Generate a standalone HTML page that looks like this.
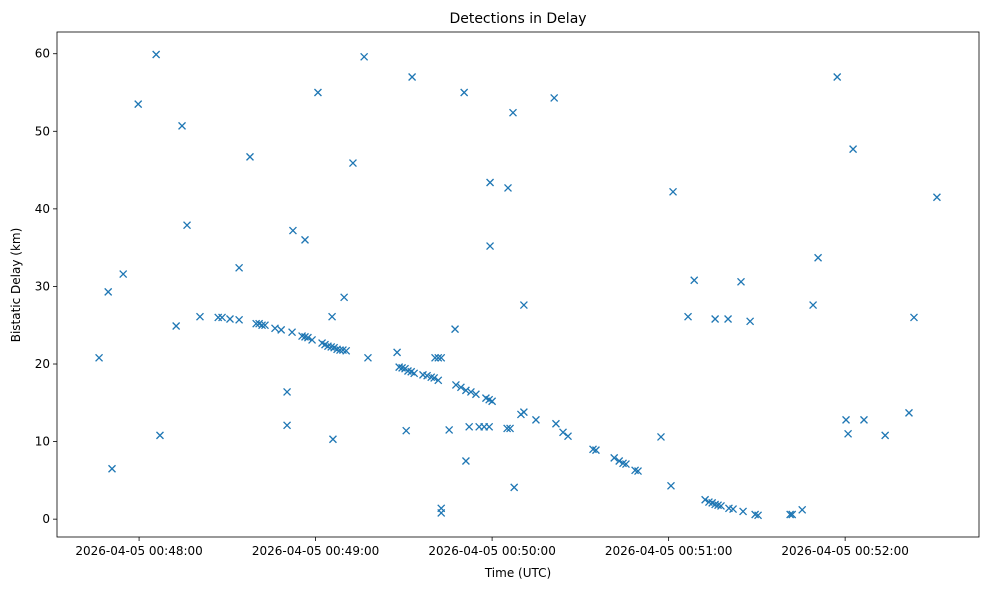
<!DOCTYPE html>
<html><head><meta charset="utf-8"><style>
body{margin:0;background:#fff;}
svg text{font-family:"DejaVu Sans","Liberation Sans",sans-serif;fill:#000;}
</style></head><body>
<svg id="chart" width="989" height="590" xmlns="http://www.w3.org/2000/svg">
<rect width="989" height="590" fill="#fff"/>
<text x="518" y="23" font-size="14" text-anchor="middle">Detections in Delay</text>
<g id="marks"></g>
<g id="axes"></g>
<rect x="57" y="32" width="922" height="505" fill="none" stroke="#000" stroke-width="0.8"/>
<text x="518" y="577" font-size="12" text-anchor="middle">Time (UTC)</text>
<text x="20" y="285" font-size="12" text-anchor="middle" transform="rotate(-90 20 285)">Bistatic Delay (km)</text>
</svg>
<script>
// seconds after 2026-04-05 00:48:00 UTC
const times = [-13.6,-10.5,-9.2,-5.4,-0.3,5.8,7.1,12.6,14.6,16.3,20.7,26.9,28.2,30.9,34.0,34.0,37.7,39.8,40.8,41.8,42.8,46.2,48.3,50.3,50.3,52.0,52.3,55.4,56.4,57.4,58.8,56.4,60.8,62.2,63.2,64.2,65.3,66.3,67.3,68.3,69.3,70.4,65.6,65.9,69.7,72.7,76.5,77.8,87.7,88.4,89.4,90.4,91.4,92.5,93.5,90.8,92.8,96.5,97.9,99.3,100.3,101.7,100.6,101.7,102.7,102.7,102.7,105.4,107.4,107.7,109.4,111.1,112.8,114.5,110.5,111.1,112.2,115.6,117.3,119.0,117.9,119.0,120.0,119.3,119.3,125.1,126.1,125.4,127.1,127.5,129.8,130.8,130.8,134.9,141.1,141.7,144.1,145.8,154.3,155.3,161.5,163.2,164.5,165.5,168.6,169.6,177.4,180.8,181.5,186.6,188.7,192.4,193.7,194.8,195.8,196.8,197.8,195.8,200.2,200.5,201.9,204.6,205.3,207.7,209.4,210.4,221.3,222.0,225.4,229.1,230.8,237.3,240.3,241.0,242.7,246.4,253.6,261.7,263.4,271.2];
const delays = [20.8,29.3,6.5,31.6,53.5,59.9,10.8,24.9,50.7,37.9,26.1,26.0,26.0,25.8,25.7,32.4,46.7,25.2,25.2,25.0,25.0,24.6,24.4,16.4,12.1,24.1,37.2,23.6,23.5,23.4,23.1,36.0,55.0,22.7,22.5,22.3,22.2,22.1,21.9,21.8,21.8,21.7,26.1,10.3,28.6,45.9,59.6,20.8,21.5,19.6,19.5,19.4,19.1,19.0,18.8,11.4,57.0,18.6,18.5,18.3,18.2,17.9,20.8,20.8,20.8,1.4,0.8,11.5,24.5,17.3,17.0,16.6,16.4,16.1,55.0,7.5,11.9,11.9,11.9,11.9,15.6,15.4,15.2,43.4,35.2,11.7,11.7,42.7,52.4,4.1,13.5,13.8,27.6,12.8,54.3,12.3,11.2,10.7,9.0,8.9,7.9,7.5,7.2,7.1,6.3,6.2,10.6,4.3,42.2,26.1,30.8,2.5,2.2,2.1,1.9,1.8,1.7,25.8,25.8,1.4,1.3,30.6,1.0,25.5,0.6,0.5,0.6,0.6,1.2,27.6,33.7,57.0,12.8,11.0,47.7,12.8,10.8,13.7,26.0,41.5];
const xTickSecs = [0,60,120,180,240];
const xTickLabels = ["2026-04-05 00:48:00","2026-04-05 00:49:00","2026-04-05 00:50:00","2026-04-05 00:51:00","2026-04-05 00:52:00"];
const yTicks = [0,10,20,30,40,50,60];

const NS="http://www.w3.org/2000/svg";
const X0=57,X1=979,Y0=537,Y1=32;
const tMin=-27.9,tMax=285.5,dMin=-2.3,dMax=62.8;
function xs(t){return X0+(t-tMin)/(tMax-tMin)*(X1-X0);}
function ys(d){return Y0-(d-dMin)/(dMax-dMin)*(Y0-Y1);}
function mk(tag,attrs,parent){const e=document.createElementNS(NS,tag);for(const k in attrs)e.setAttribute(k,attrs[k]);parent.appendChild(e);return e;}
const axes=document.getElementById('axes');
xTickSecs.forEach((t,i)=>{
  const x=xs(t);
  const l=mk('line',{x1:x,x2:x,y1:Y0,y2:Y0+4,stroke:'#000','stroke-width':0.8},axes);
  
  
  const tx=mk('text',{x:x,y:Y0+18,'font-size':12,'text-anchor':'middle'},axes);
  tx.textContent=xTickLabels[i];
  
  
});
yTicks.forEach(v=>{
  const y=ys(v);
  const l=mk('line',{x1:X0-4,x2:X0,y1:y,y2:y,stroke:'#000','stroke-width':0.8},axes);
  
  
  const tx=mk('text',{x:X0-7,y:y+4,'font-size':12,'text-anchor':'end'},axes);
  tx.textContent=v;
  
  
});
const g=document.getElementById('marks');
times.forEach((t,i)=>{
  const x=xs(t),y=ys(delays[i]),r=3.5;
  const p=mk('path',{d:`M${x-r},${y-r}L${x+r},${y+r}M${x-r},${y+r}L${x+r},${y-r}`,stroke:'#1f77b4','stroke-width':1.3,fill:'none'},g);
  
  
});
</script>
</body></html>
